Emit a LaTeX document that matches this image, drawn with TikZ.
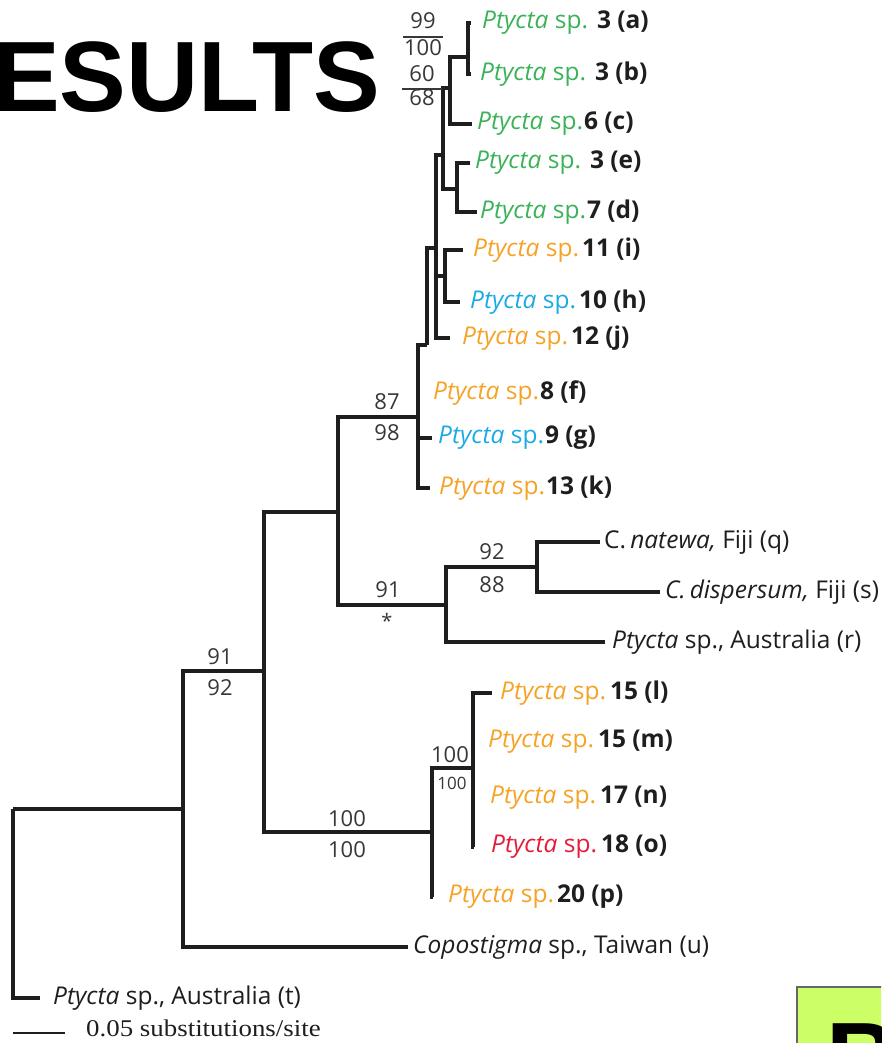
\documentclass[tikz,border=0pt]{standalone}
\usepackage{fontspec}
\setmainfont{Open Sans}
\newfontfamily\headfont{Liberation Sans}
\newfontfamily\seriffont{Liberation Serif}
\definecolor{pgreen}{RGB}{58,178,88}
\definecolor{porange}{RGB}{245,163,38}
\definecolor{pblue}{RGB}{28,170,228}
\definecolor{pred}{RGB}{228,28,60}
\definecolor{ink}{RGB}{30,30,30}
\definecolor{suppgray}{RGB}{55,55,55}
\definecolor{boxgreen}{RGB}{204,255,102}
% species label: colour, gap before the number, bold number part
\newcommand\ptyc[3]{{\color{#1}\textit{Ptycta} sp.}\hspace{#2}\textbf{#3}}
\tikzset{
  br/.style={line width=3.5pt, draw=ink},
  taxon/.style={anchor=west, inner ysep=0pt, inner xsep=#1, text=ink,
    font=\fontsize{24.5}{28}\selectfont},
  taxon/.default=5pt,
  supp/.style={inner sep=0pt, text=suppgray, font=\fontsize{22}{26}\selectfont},
}
\begin{document}
\begin{tikzpicture}[x=1pt,y=-1pt]
\useasboundingbox (0,0) rectangle (881,1043);
\clip (0,0) rectangle (881,1043);

% heading
\node[anchor=base west, inner sep=0pt,
  font=\headfont\bfseries\fontsize{100}{100}\selectfont] (title) at (-7,112) {ESULTS};

% corner box
\node[draw=black!60, fill=boxgreen, line width=1.5pt, anchor=north west,
  minimum width=120pt, minimum height=90pt, inner sep=0pt] (cornerbox) at (796,986) {};
\node[anchor=base west, inner sep=0pt,
  font=\headfont\bfseries\fontsize{100}{100}\selectfont] (cornerletter) at (826,1092) {B};

% internal nodes of the tree
\coordinate (R)   at (13,809);
\coordinate (A)   at (183,809);
\coordinate (B)   at (264,671);
\coordinate (C)   at (338,512);
\coordinate (N1)  at (418,417);
\coordinate (N2)  at (427,345);
\coordinate (N3)  at (436,248);
\coordinate (G)   at (443,155);
\coordinate (ABC) at (450,88);
\coordinate (AB)  at (468,57);
\coordinate (ED)  at (457,189);
\coordinate (IH)  at (445,276);
\coordinate (E)   at (446,605);
\coordinate (F)   at (537,567);
\coordinate (D)   at (432,832);
\coordinate (H)   at (473,768);

% leaves
\node[taxon=11pt] (la) at (471,23)  {\ptyc{pgreen}{9pt}{3 (a)}};
\node[taxon=9pt]  (lb) at (471,74)  {\ptyc{pgreen}{9pt}{3 (b)}};
\node[taxon=5pt]  (lc) at (472,124) {\ptyc{pgreen}{1pt}{6 (c)}};
\node[taxon=5pt]  (le) at (470,163) {\ptyc{pgreen}{9pt}{3 (e)}};
\node[taxon=3pt]  (ld) at (477,212) {\ptyc{pgreen}{1pt}{7 (d)}};
\node[taxon=10pt] (li) at (463,250) {\ptyc{porange}{3pt}{11 (i)}};
\node[taxon=10pt] (lh) at (460,302) {\ptyc{pblue}{3pt}{10 (h)}};
\node[taxon=12pt] (lj) at (450,338) {\ptyc{porange}{3pt}{12 (j)}};
\node[taxon=14pt] (lf) at (419,393) {\ptyc{porange}{1pt}{8 (f)}};
\node[taxon=6pt]  (lg) at (432,438) {\ptyc{pblue}{1pt}{9 (g)}};
\node[taxon=9pt]  (lk) at (430,488) {\ptyc{porange}{1pt}{13 (k)}};
\node[taxon=4pt]  (lq) at (600,542) {C.\,\textit{natewa,} Fiji (q)};
\node[taxon=5pt]  (ls) at (660,592) {\textit{C.\,dispersum,} Fiji (s)};
\node[taxon=7pt]  (lr) at (605,642) {\textit{Ptycta} sp., Australia (r)};
\node[taxon=8pt]  (ll) at (492,693) {\ptyc{porange}{4pt}{15 (l)}};
\node[taxon=14pt] (lm) at (474,742) {\ptyc{porange}{4pt}{15 (m)}};
\node[taxon=16pt] (ln) at (474,798) {\ptyc{porange}{4pt}{17 (n)}};
\node[taxon=17pt] (lo) at (474,847) {\ptyc{pred}{4pt}{18 (o)}};
\node[taxon=15pt] (lp) at (433,897) {\ptyc{porange}{3pt}{20 (p)}};
\node[taxon=5pt]  (lu) at (408,947) {\textit{Copostigma} sp., Taiwan (u)};
\node[taxon=13pt] (lt) at (40,998)  {\textit{Ptycta} sp., Australia (t)};

% branches
\draw[br] (R) |- (A);      \draw[br] (R) |- (lt.west);
\draw[br] (A) |- (B);      \draw[br] (A) |- (lu.west);
\draw[br] (B) |- (C);      \draw[br] (B) |- (D);
\draw[br] (C) |- (N1);     \draw[br] (C) |- (E);
\draw[br] (N1) |- (N2);    \draw[br] (N1) |- (lf.west);
\draw[br] (N1) |- (lg.west); \draw[br] (N1) |- (lk.west);
\draw[br] (N2) |- (N3);
\draw[br] (N3) |- (G);     \draw[br] (N3) |- (IH);   \draw[br] (N3) |- (lj.west);
\draw[br] (G) |- (ABC);    \draw[br] (G) |- (ED);
\draw[br] (ABC) |- (AB);   \draw[br] (ABC) |- (lc.west);
\draw[br] (AB) |- (la.west); \draw[br] (AB) |- (lb.west);
\draw[br] (ED) |- (le.west); \draw[br] (ED) |- (ld.west);
\draw[br] (IH) |- (li.west); \draw[br] (IH) |- (lh.west);
\draw[br] (E) |- (F);      \draw[br] (E) |- (lr.west);
\draw[br] (F) |- (lq.west); \draw[br] (F) |- (ls.west);
\draw[br] (D) |- (H);      \draw[br] (D) |- (lp.west);
\draw[br] (H) |- (ll.west); \draw[br] (H) |- (lm.west);
\draw[br] (H) |- (ln.west); \draw[br] (H) |- (lo.west);

% support values
\node[supp] (sAB) at (423,37) {\setlength{\arrayrulewidth}{1.2pt}%
  \begin{tabular}{@{\hspace{1pt}}c@{\hspace{1pt}}}99\\\hline 100\end{tabular}};
\node[supp] (sABC) at (422,89) {\setlength{\arrayrulewidth}{1.2pt}\renewcommand\arraystretch{0.85}%
  \begin{tabular}{@{\hspace{7pt}}c@{\hspace{7pt}}}60\\\hline 68\end{tabular}};
\node[supp] (sB1) at (220,657) {91};
\node[supp] (sB2) at (220,688) {92};
\node[supp] (sN1a) at (387,402) {87};
\node[supp] (sN1b) at (387,433) {98};
\node[supp] (sE1) at (388,590) {91};
\node[supp, font=\fontsize{20}{22}\selectfont] (sE2) at (387,621) {*};
\node[supp] (sF1) at (492,552) {92};
\node[supp] (sF2) at (492,585) {88};
\node[supp] (sD1) at (347,819) {100};
\node[supp] (sD2) at (347,850) {100};
\node[supp] (sH1) at (450,755) {100};
\node[supp, font=\fontsize{17}{19}\selectfont] (sH2) at (452,783) {100};

% scale bar
\coordinate (sbl) at (13,1033);
\coordinate (sbr) at (65,1033);
\draw[line width=2.5pt, draw=ink] (sbl) -- (sbr);
\node[anchor=base west, inner sep=0pt, text=ink, xscale=1.12,
  font=\seriffont\fontsize{24}{26}\selectfont]
  (sbt) at (86,1036) {0.05 substitutions/site};
\end{tikzpicture}
\end{document}
